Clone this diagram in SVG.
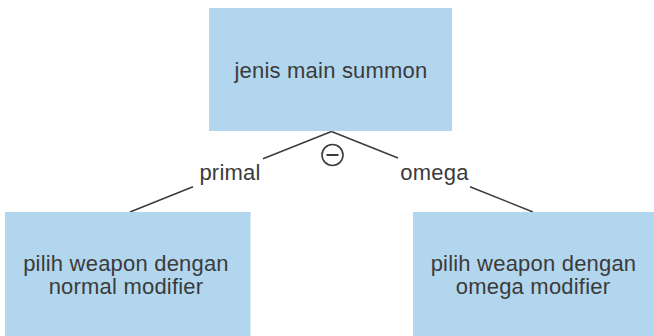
<svg xmlns="http://www.w3.org/2000/svg" width="654" height="336" viewBox="0 0 654 336">
  <style>
    .box { fill: #b2d6ed; }
    .label { font-family: "Liberation Sans", Arial, sans-serif; font-size: 22px; fill: #3b3b3b; text-anchor: middle; letter-spacing: 0.2px; }
    .edge { stroke: #3b3b3b; stroke-width: 1.5; fill: none; }
  </style>
  <rect width="654" height="336" fill="#ffffff"/>

  <g id="connectors">
    <path class="edge" d="M331.5 131.5 L263 158.8 M193 186.7 L130 212"/>
    <path class="edge" d="M331.5 131.5 L398 158 M470 186.7 L533 212"/>
    <text class="label" x="230" y="180">primal</text>
    <text class="label" x="434.5" y="180">omega</text>
    <g id="xor-marker">
      <circle cx="332.5" cy="155" r="10.5" fill="#ffffff" stroke="#3b3b3b" stroke-width="1.6"/>
      <line x1="326.5" y1="155" x2="338.5" y2="155" stroke="#3b3b3b" stroke-width="2"/>
    </g>
  </g>

  <g id="node-summon">
    <rect class="box" x="209" y="8" width="243" height="123"/>
    <text class="label" x="331" y="78">jenis main summon</text>
  </g>

  <g id="node-normal">
    <rect class="box" x="5" y="212" width="245.5" height="124"/>
    <text class="label" x="126" y="271">pilih weapon dengan</text>
    <text class="label" x="126" y="294">normal modifier</text>
  </g>

  <g id="node-omega">
    <rect class="box" x="413" y="212" width="241" height="124"/>
    <text class="label" x="533.5" y="271">pilih weapon dengan</text>
    <text class="label" x="533" y="294">omega modifier</text>
  </g>
</svg>
